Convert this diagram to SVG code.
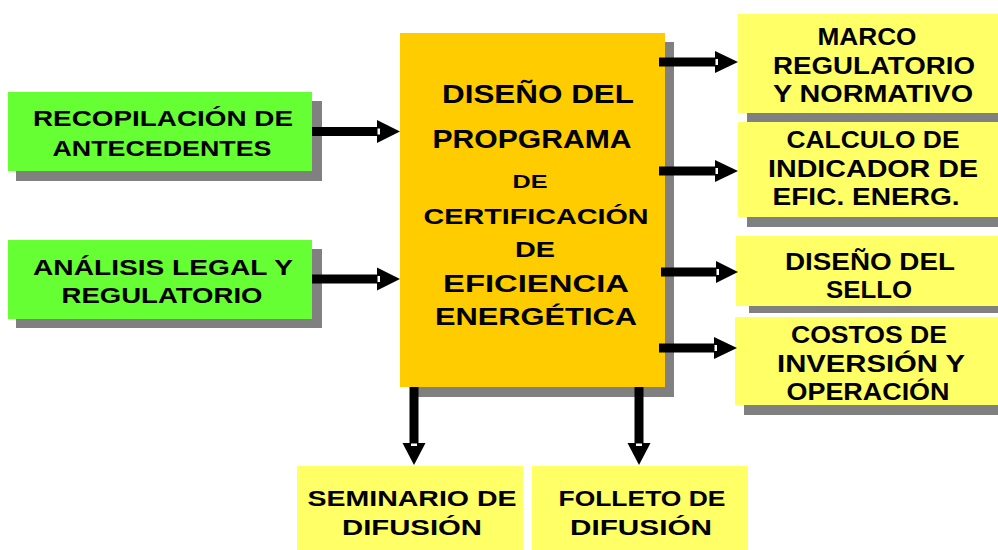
<svg xmlns="http://www.w3.org/2000/svg" width="998" height="550" viewBox="0 0 998 550">
<style>
.sh{fill:#808080}
.g{fill:#66FF33}
.y{fill:#FFFF66}
.o{fill:#FFCC00}
text{font-family:"Liberation Sans",Arial,sans-serif;font-weight:bold;fill:#000;text-anchor:middle}
.tl{font-size:22px}
.tr{font-size:23.5px}
.tb{font-size:22.5px}
.c26{font-size:25.5px}
.c19{font-size:19px}
.c22{font-size:22px}
.c23{font-size:23.5px}
.ln{stroke:#000;stroke-width:9;fill:none}
.hd{fill:#000}
.nt{fill:#fff}
</style>
<rect width="998" height="550" fill="#fff"/>
<g id="recopilacion">
<rect class="sh" x="16" y="101" width="306" height="80"/>
<rect class="g" x="8" y="92" width="304" height="79"/>
<text class="tl" x="163" y="126" textLength="260" lengthAdjust="spacingAndGlyphs">RECOPILACIÓN DE</text>
<text class="tl" x="162" y="156" textLength="219" lengthAdjust="spacingAndGlyphs">ANTECEDENTES</text>
</g>
<g id="analisis">
<rect class="sh" x="16" y="249" width="306" height="79"/>
<rect class="g" x="8" y="240" width="304" height="79"/>
<text class="tl" x="163" y="275" textLength="260" lengthAdjust="spacingAndGlyphs">ANÁLISIS LEGAL Y</text>
<text class="tl" x="162" y="303" textLength="201" lengthAdjust="spacingAndGlyphs">REGULATORIO</text>
</g>
<g id="diseno-programa">
<rect class="sh" x="410" y="42" width="264" height="355"/>
<rect class="o" x="400" y="33" width="265" height="354"/>
<text class="c26" x="538" y="103" textLength="192" lengthAdjust="spacingAndGlyphs">DISEÑO DEL</text>
<text class="c26" x="532" y="148" textLength="199" lengthAdjust="spacingAndGlyphs">PROPGRAMA</text>
<text class="c19" x="530" y="188" textLength="35" lengthAdjust="spacingAndGlyphs">DE</text>
<text class="c22" x="536" y="224" textLength="225" lengthAdjust="spacingAndGlyphs">CERTIFICACIÓN</text>
<text class="c22" x="535" y="257" textLength="40" lengthAdjust="spacingAndGlyphs">DE</text>
<text class="c23" x="536" y="292" textLength="186" lengthAdjust="spacingAndGlyphs">EFICIENCIA</text>
<text class="c23" x="536" y="325" textLength="202" lengthAdjust="spacingAndGlyphs">ENERGÉTICA</text>
</g>
<g id="marco">
<rect class="sh" x="747" y="23" width="253" height="99"/>
<rect class="y" x="738" y="14" width="262" height="99"/>
<text class="tr" x="867" y="45" textLength="99" lengthAdjust="spacingAndGlyphs">MARCO</text>
<text class="tr" x="874" y="74" textLength="202" lengthAdjust="spacingAndGlyphs">REGULATORIO</text>
<text class="tr" x="873" y="102" textLength="200" lengthAdjust="spacingAndGlyphs">Y NORMATIVO</text>
</g>
<g id="calculo">
<rect class="sh" x="747" y="131" width="253" height="96"/>
<rect class="y" x="738" y="122" width="262" height="95"/>
<text class="tr" x="873" y="148" textLength="173" lengthAdjust="spacingAndGlyphs">CALCULO DE</text>
<text class="tr" x="873" y="177" textLength="210" lengthAdjust="spacingAndGlyphs">INDICADOR DE</text>
<text class="tr" x="866" y="205" textLength="187" lengthAdjust="spacingAndGlyphs">EFIC. ENERG.</text>
</g>
<g id="sello">
<rect class="sh" x="749" y="244" width="251" height="69"/>
<rect class="y" x="736" y="236" width="264" height="70"/>
<text class="tr" x="870" y="270" textLength="170" lengthAdjust="spacingAndGlyphs">DISEÑO DEL</text>
<text class="tr" x="869" y="298" textLength="86" lengthAdjust="spacingAndGlyphs">SELLO</text>
</g>
<g id="costos">
<rect class="sh" x="744" y="326" width="256" height="89"/>
<rect class="y" x="735" y="317" width="265" height="88"/>
<text class="tr" x="869" y="343" textLength="156" lengthAdjust="spacingAndGlyphs">COSTOS DE</text>
<text class="tr" x="871" y="372" textLength="188" lengthAdjust="spacingAndGlyphs">INVERSIÓN Y</text>
<text class="tr" x="868" y="400" textLength="163" lengthAdjust="spacingAndGlyphs">OPERACIÓN</text>
</g>
<g id="seminario">
<rect class="y" x="297" y="466" width="226" height="84"/>
<text class="tb" x="412" y="506" textLength="209" lengthAdjust="spacingAndGlyphs">SEMINARIO DE</text>
<text class="tb" x="412" y="535" textLength="140" lengthAdjust="spacingAndGlyphs">DIFUSIÓN</text>
</g>
<g id="folleto">
<rect class="y" x="532" y="466" width="216" height="84"/>
<text class="tb" x="642" y="506" textLength="167" lengthAdjust="spacingAndGlyphs">FOLLETO DE</text>
<text class="tb" x="641" y="535" textLength="142" lengthAdjust="spacingAndGlyphs">DIFUSIÓN</text>
</g>
<g id="connectors">
<path class="ln" d="M312 131.5H380"/>
<polygon class="hd" points="377,120 400,131.5 377,143"/>
<rect class="nt" x="377.5" y="128.5" width="2.5" height="6"/>
<path class="ln" d="M312 279H380"/>
<polygon class="hd" points="377,267.5 400,279 377,290.5"/>
<rect class="nt" x="377.5" y="276" width="2.5" height="6"/>
<path class="ln" d="M659 62H718"/>
<polygon class="hd" points="715,51 738,62 715,73"/>
<rect class="nt" x="715.5" y="59" width="2.5" height="6"/>
<path class="ln" d="M659 171H718"/>
<polygon class="hd" points="715,160 738,171 715,182"/>
<rect class="nt" x="715.5" y="168" width="2.5" height="6"/>
<path class="ln" d="M661 272H719"/>
<polygon class="hd" points="716,261 738,272 716,283"/>
<rect class="nt" x="716.5" y="269" width="2.5" height="6"/>
<path class="ln" d="M659 348H717"/>
<polygon class="hd" points="714,337 737,348 714,359"/>
<rect class="nt" x="714.5" y="345" width="2.5" height="6"/>
<path class="ln" d="M414 387V446"/>
<polygon class="hd" points="402.5,443 425.5,443 414,465"/>
<rect class="nt" x="411" y="443.5" width="6" height="2.5"/>
<path class="ln" d="M639 387V446"/>
<polygon class="hd" points="627.5,443 650.5,443 639,465"/>
<rect class="nt" x="636" y="443.5" width="6" height="2.5"/>
</g>
</svg>
